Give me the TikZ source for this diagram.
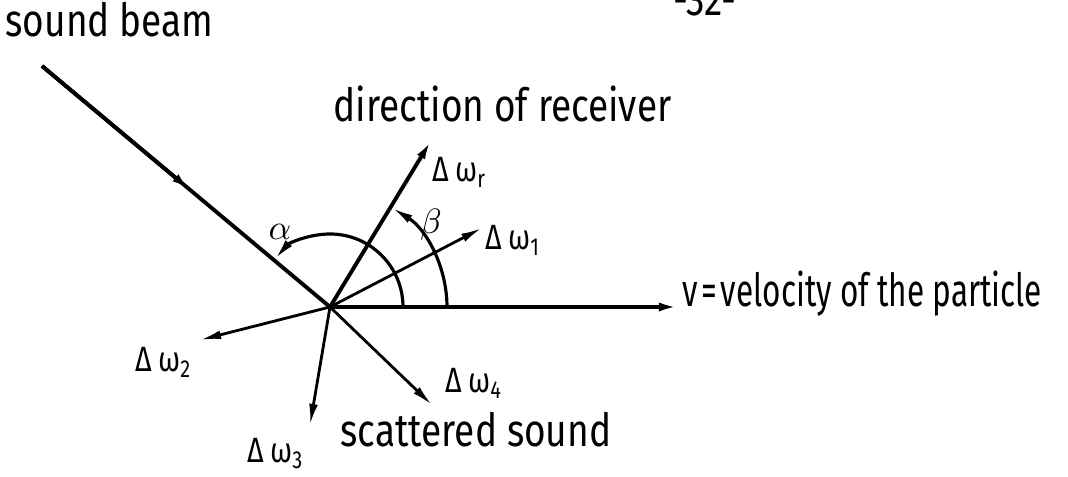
\documentclass[tikz,border=0pt]{standalone}
\usepackage{fontspec}
\setmainfont[FakeStretch=0.81]{Fira Sans}
\newfontfamily\velfont[FakeStretch=0.69]{Fira Sans}
\usepackage{tikz}
\usetikzlibrary{arrows.meta,calc}

\tikzset{
  vec/.style={-{Latex[length=6pt,width=2.5pt]}, line width=0.8pt},
  mainvec/.style={vec, line width=1.1pt},
  anglearc/.style={-{Latex[length=6pt,width=2.5pt]}, line width=0.9pt},
  lbl/.style={inner sep=0pt, anchor=base west, font=\fontsize{13}{15}\selectfont},
  dlbl/.style={inner sep=0pt, anchor=base west, font=\fontsize{10}{12}\selectfont}
}

\begin{document}
\begin{tikzpicture}
  \useasboundingbox (0,0) rectangle (10.68,4.77);
  % scattering point and end points
  \coordinate (O) at (3.30,1.70);
  \coordinate (beam) at (0.42,4.11);
  \coordinate (wr) at (4.32,3.38);
  \coordinate (w1) at (4.82,2.49);
  \coordinate (w2) at (2.00,1.37);
  \coordinate (w3) at (3.10,0.52);
  \coordinate (w4) at (4.32,0.72);
  \coordinate (vel) at (6.80,1.70);

  % texts
  \node[lbl] (beamtxt) at (0.05,4.40) {sound beam};
  \node[lbl] (rectxt) at (3.33,3.55) {direction of receiver};
  \node[lbl] (veltxt) at (6.82,1.70) {\velfont v\kern1pt=\kern1pt velocity of the particle};
  \node[lbl] (scattxt) at (3.40,0.30) {scattered sound};
  \node[lbl] (page) at (6.73,4.61) {-32-};
  \node[dlbl] (wrtxt) at (4.32,2.95) {Δ\,ω\textsubscript{r}};
  \node[dlbl] (w1txt) at (4.85,2.27) {Δ\,ω\textsubscript{1}};
  \node[dlbl] (w2txt) at (1.35,1.05) {Δ\,ω\textsubscript{2}};
  \node[dlbl] (w3txt) at (2.47,0.14) {Δ\,ω\textsubscript{3}};
  \node[dlbl] (w4txt) at (4.45,0.84) {Δ\,ω\textsubscript{4}};
  \node (alpha) at (2.80,2.45) {$\alpha$};
  \node (beta) at (4.31,2.52) {$\beta$};

  % incoming beam
  \draw[line width=1.1pt] (beam) -- (O);
  \draw[mainvec] (beam) -- ($(beam)!0.52!(O)$);

  % vectors
  \draw[mainvec] (O) -- (vel);
  \draw[mainvec] (O) -- (wr);
  \draw[vec] (O) -- (w1);
  \draw[vec] (O) -- (w2);
  \draw[vec] (O) -- (w3);
  \draw[vec] (O) -- (w4);

  % angles
  \draw[anglearc] ([shift={(0:0.73)}]O) arc[start angle=0, end angle=139, radius=0.73];
  \draw[anglearc] ([shift={(0:1.17)}]O) arc[start angle=0, end angle=58, radius=1.17];
\end{tikzpicture}
\end{document}
